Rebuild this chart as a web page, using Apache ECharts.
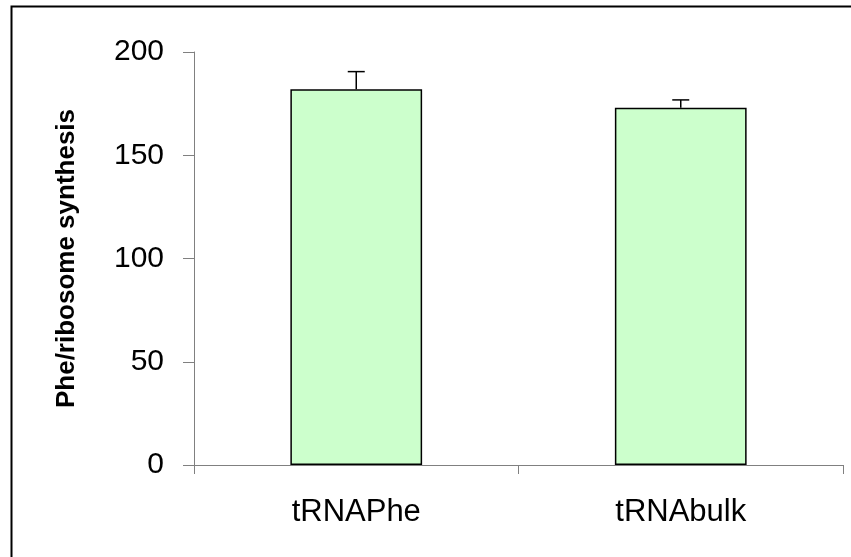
<!DOCTYPE html>
<html>
<head>
<meta charset="utf-8">
<script src="https://cdn.jsdelivr.net/npm/echarts@6/dist/echarts.min.js"></script>
<style>
html,body{margin:0;padding:0;background:#fff;}
#chart{width:851px;height:557px;}
</style>
</head>
<body>
<div id="chart"></div>
<script>
var categories = ['tRNAPhe', 'tRNAbulk'];
var values = [182, 173];
var errors = [8.5, 3.8];
var yTicks = [0, 50, 100, 150, 200];

var chart = echarts.init(document.getElementById('chart'), null, {renderer: 'canvas'});

var errorData = categories.map(function (c, i) { return [i, values[i], values[i] + errors[i]]; });

var option = {
  backgroundColor: '#ffffff',
  animation: false,
  graphic: [{
    type: 'rect',
    shape: {x: 11.5, y: 6.5, width: 900, height: 600},
    style: {fill: 'none', stroke: '#000', lineWidth: 2},
    silent: true,
    z: 100
  }],
  grid: {left: 194, right: 8, top: 52, bottom: 92, containLabel: false},
  xAxis: {
    type: 'category',
    data: categories,
    boundaryGap: true,
    axisLine: {show: true, lineStyle: {color: '#808080', width: 1}},
    axisTick: {show: true, length: 9, alignWithLabel: false, lineStyle: {color: '#808080'}},
    axisLabel: {color: '#000', fontFamily: 'Liberation Sans, Arial, sans-serif', fontSize: 31, margin: 32},
    splitLine: {show: false}
  },
  yAxis: {
    type: 'value',
    min: yTicks[0],
    max: yTicks[yTicks.length - 1],
    interval: 50,
    name: 'Phe/ribosome synthesis',
    nameLocation: 'middle',
    nameGap: 114,
    nameTextStyle: {color: '#000', fontFamily: 'Liberation Sans, Arial, sans-serif', fontSize: 26, fontWeight: 'bold'},
    axisLine: {show: true, lineStyle: {color: '#808080', width: 1}},
    axisTick: {show: true, length: 11, lineStyle: {color: '#808080'}},
    axisLabel: {color: '#000', fontFamily: 'Liberation Sans, Arial, sans-serif', fontSize: 30, margin: 30},
    splitLine: {show: false}
  },
  series: [{
    type: 'bar',
    data: values,
    barWidth: '40.6%',
    itemStyle: {color: '#ccffcc', borderColor: '#000', borderWidth: 1.5},
    z: 2
  }, {
    type: 'custom',
    data: errorData,
    z: 3,
    renderItem: function (params, api) {
      var x = api.value(0);
      var lo = api.coord([x, api.value(1)]);
      var hi = api.coord([x, api.value(2)]);
      var half = 8.5;
      var style = {stroke: '#000', lineWidth: 1.5};
      return {
        type: 'group',
        children: [
          {type: 'line', shape: {x1: lo[0], y1: lo[1], x2: hi[0], y2: hi[1]}, style: style},
          {type: 'line', shape: {x1: hi[0] - half, y1: hi[1], x2: hi[0] + half, y2: hi[1]}, style: style}
        ]
      };
    }
  }]
};
chart.setOption(option);
</script>
</body>
</html>
